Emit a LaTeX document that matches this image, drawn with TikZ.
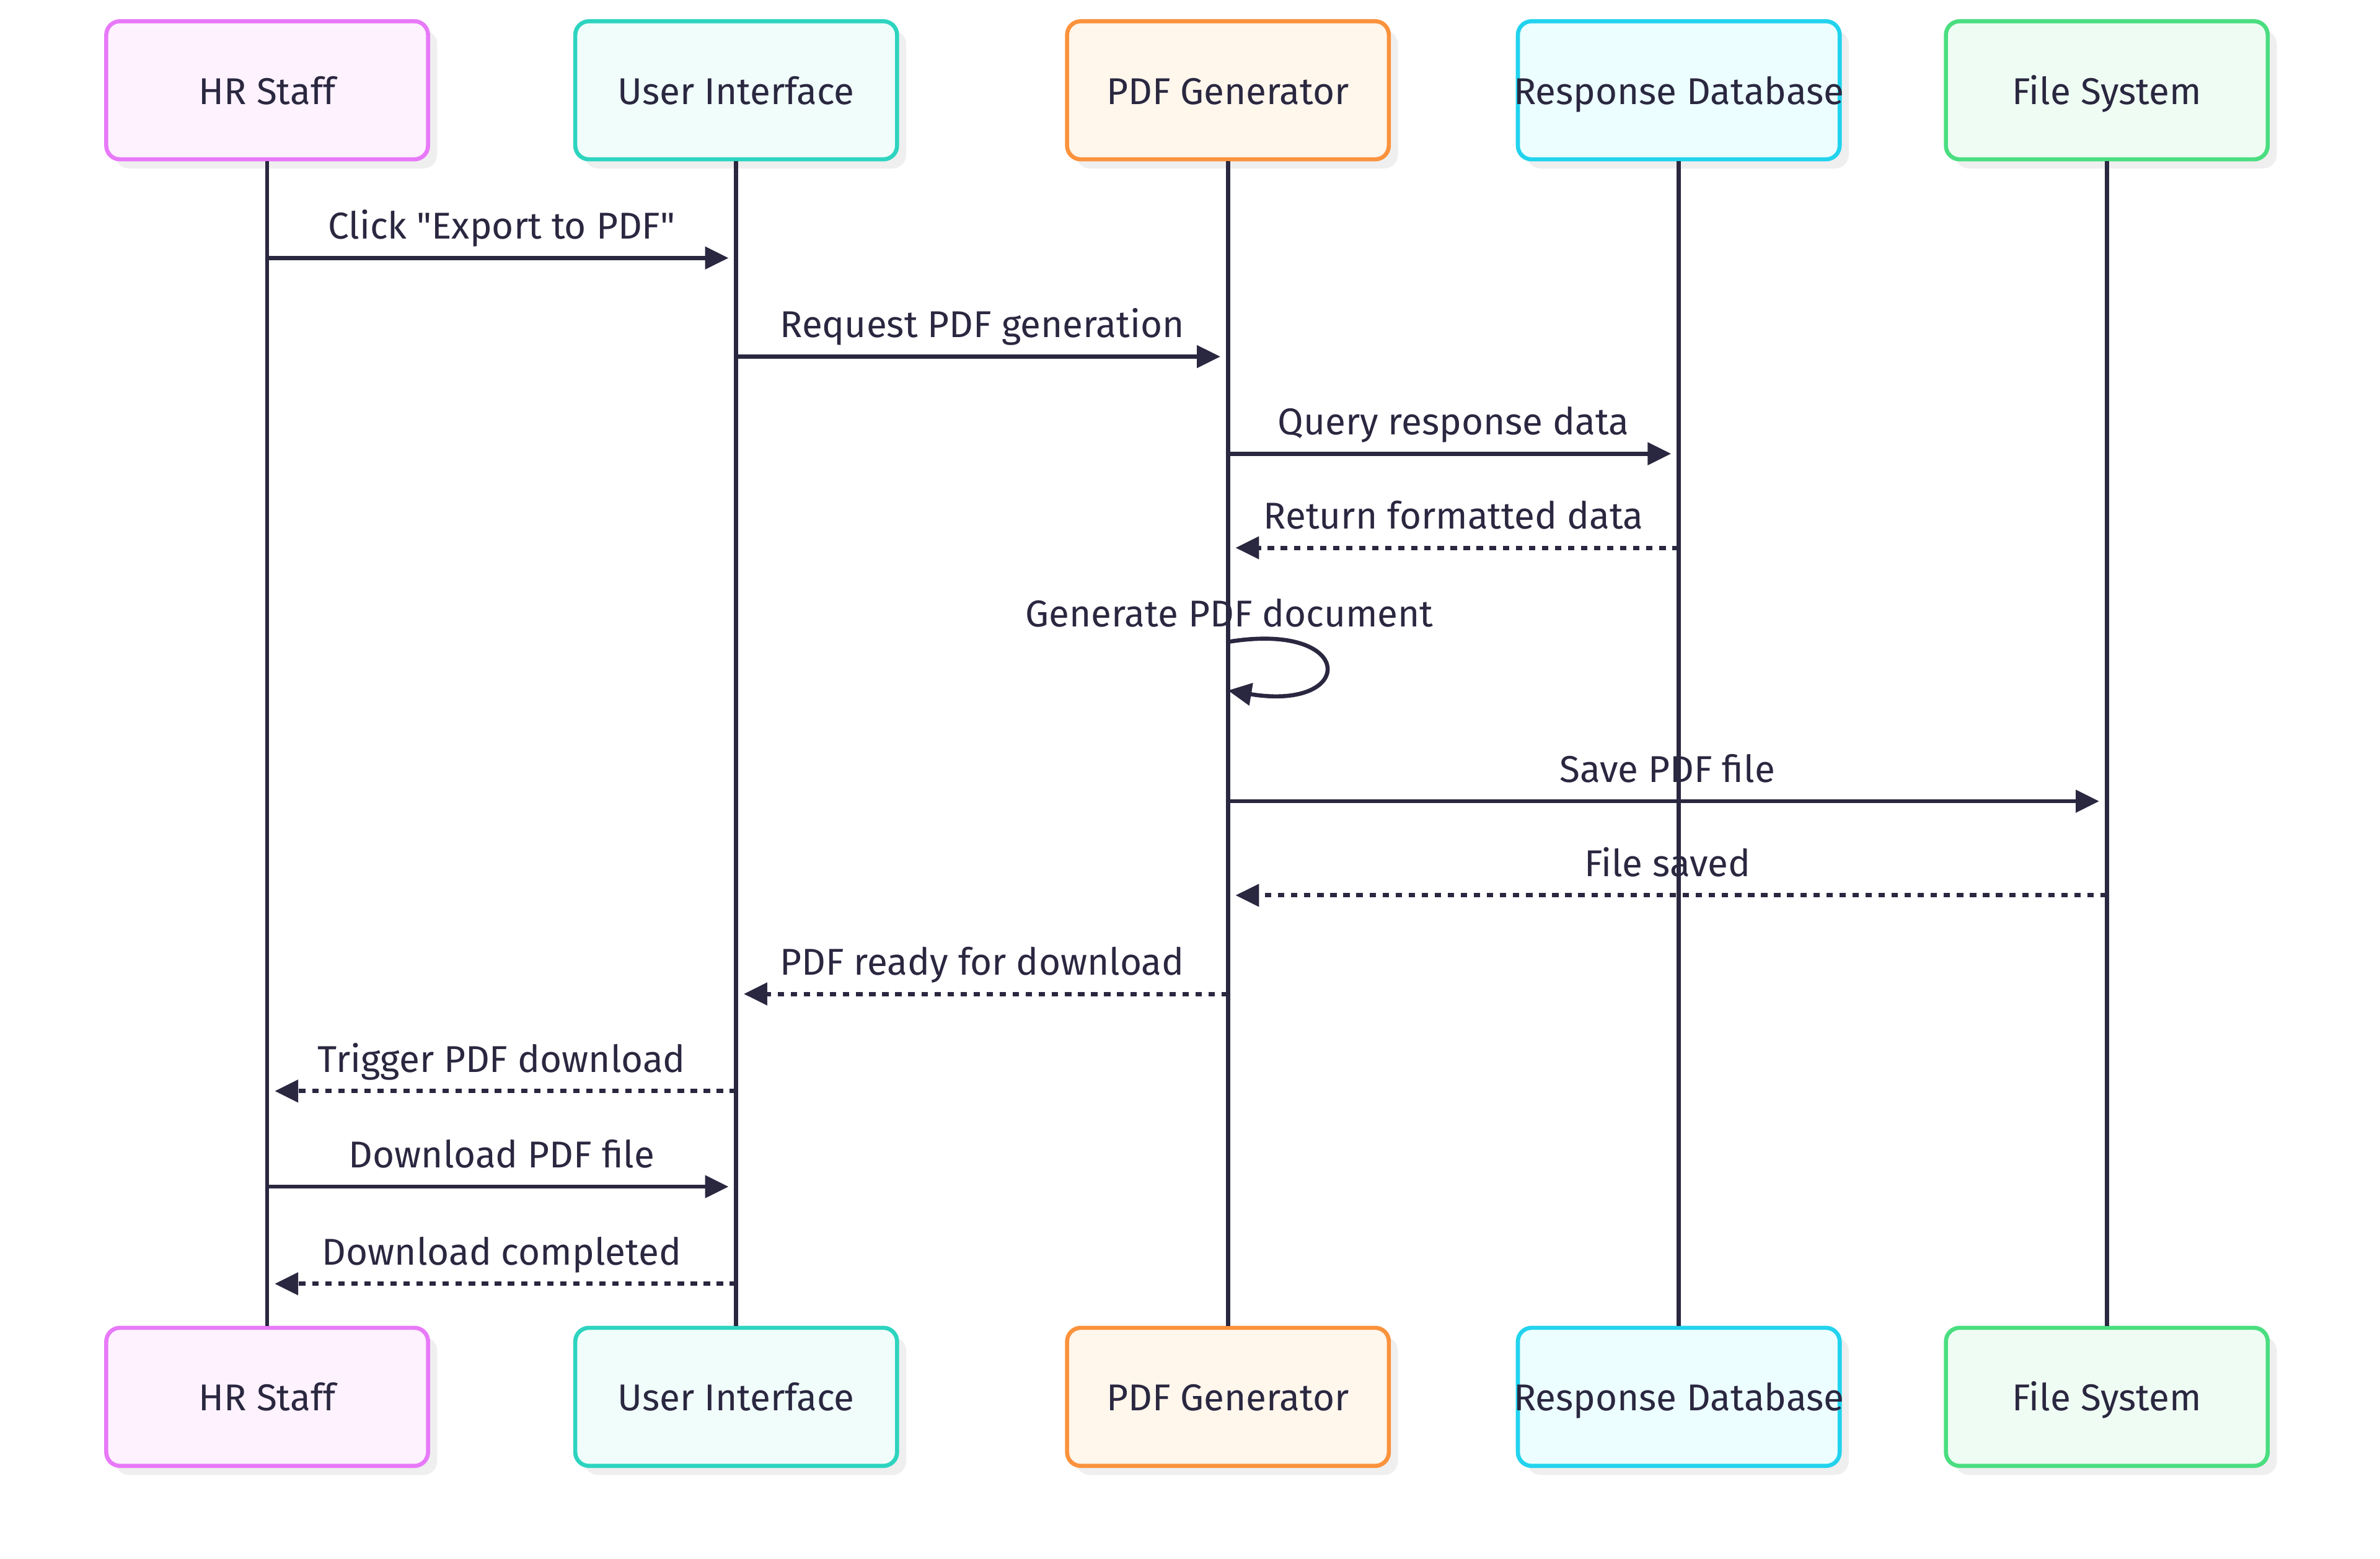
\documentclass[tikz,border=0pt]{standalone}
\usepackage{fontspec}
\setmainfont{Fira Sans}[Ligatures=TeXOff]
\usetikzlibrary{arrows.meta,calc,shadows}
\definecolor{ink}{HTML}{2A2740}
\definecolor{shd}{HTML}{EFEFEF}
\definecolor{hrS}{HTML}{E879F9}\definecolor{hrF}{HTML}{FDF2FE}
\definecolor{uiS}{HTML}{2DD4BF}\definecolor{uiF}{HTML}{F0FDFA}
\definecolor{pdS}{HTML}{FB923C}\definecolor{pdF}{HTML}{FFF6EC}
\definecolor{dbS}{HTML}{22D3EE}\definecolor{dbF}{HTML}{ECFEFF}
\definecolor{fsS}{HTML}{4ADE80}\definecolor{fsF}{HTML}{EFFCF3}
\tikzset{
  actor/.style={draw=#1S, fill=#1F, rectangle, rounded corners=9pt, line width=2.7pt,
    minimum width=212pt, minimum height=91pt, text=ink, font=\fontsize{24.6}{28}\selectfont,
    text height=18.5pt, text depth=0pt,
    drop shadow={shadow xshift=6pt, shadow yshift=-6pt, fill=shd, opacity=1}},
  life/.style={draw=ink, line width=2.7pt},
  tipA/.style={-{Triangle[length=15.5pt,width=14.5pt]}},
  solidmsg/.style={draw=ink, line width=2.7pt, tipA, shorten >=5pt},
  dashmsg/.style={draw=ink, line width=2.8pt, dash pattern=on 4.2pt off 4.4pt, tipA, shorten >=5pt},
  lbl/.style={text=ink, anchor=base, inner sep=0pt, font=\fontsize{24.6}{28}\selectfont}
}
\newcommand\seqmsg[6]{%
  \coordinate (#6a) at (#1 |- 0,#3);
  \coordinate (#6b) at (#2 |- 0,#3);
  \draw[#5] (#6a) -- (#6b);
  \node[lbl] (#6l) at ($(#6a)!0.5!(#6b)+(0,-12.5)$) {#4};
}
\begin{document}
\begin{tikzpicture}[x=1pt,y=-1pt]
\useasboundingbox (0,0) rectangle (1568,1027);
% top actors
\node[actor=hr] (hrT) at (176,59.5) {\makebox[0pt]{HR Staff}};
\node[actor=ui] (uiT) at (485,59.5) {\makebox[0pt]{User Interface}};
\node[actor=pd] (pdT) at (809,59.5) {\makebox[0pt]{PDF Generator}};
\node[actor=db] (dbT) at (1106,59.5) {\makebox[0pt]{Response Database}};
\node[actor=fs] (fsT) at (1388,59.5) {\makebox[0pt]{File System}};
% bottom actors
\node[actor=hr] (hrB) at (176,920.5) {\makebox[0pt]{HR Staff}};
\node[actor=ui] (uiB) at (485,920.5) {\makebox[0pt]{User Interface}};
\node[actor=pd] (pdB) at (809,920.5) {\makebox[0pt]{PDF Generator}};
\node[actor=db] (dbB) at (1106,920.5) {\makebox[0pt]{Response Database}};
\node[actor=fs] (fsB) at (1388,920.5) {\makebox[0pt]{File System}};
% lifelines
\draw[life] (hrT.south) -- (hrB.north);
\draw[life] (uiT.south) -- (uiB.north);
\draw[life] (pdT.south) -- (pdB.north);
\draw[life] (dbT.south) -- (dbB.north);
\draw[life] (fsT.south) -- (fsB.north);
% messages
\seqmsg{hrT}{uiT}{170}{Click "Export to PDF"}{solidmsg}{m1}
\seqmsg{uiT}{pdT}{235}{Request PDF generation}{solidmsg}{m2}
\seqmsg{pdT}{dbT}{299}{Query response data}{solidmsg}{m3}
\seqmsg{dbT}{pdT}{361}{Return formatted data}{dashmsg}{m4}
% self loop
\coordinate (m5a) at (pdT |- 0,423);
\coordinate (m5b) at (pdT |- 0,455);
\node[lbl] (m5l) at ($(m5a)+(1,-10)$) {Generate PDF document};
\draw[draw=ink, line width=2.7pt, tipA] (m5a) .. controls +(85,-14) and +(85,14) .. (m5b);
\seqmsg{pdT}{fsT}{528}{Save PDF file}{solidmsg}{m6}
\seqmsg{fsT}{pdT}{590}{File saved}{dashmsg}{m7}
\seqmsg{pdT}{uiT}{655}{PDF ready for download}{dashmsg}{m8}
\seqmsg{uiT}{hrT}{719}{Trigger PDF download}{dashmsg}{m9}
\seqmsg{hrT}{uiT}{782}{Download PDF file}{solidmsg}{m10}
\seqmsg{uiT}{hrT}{846}{Download completed}{dashmsg}{m11}
\end{tikzpicture}
\end{document}
